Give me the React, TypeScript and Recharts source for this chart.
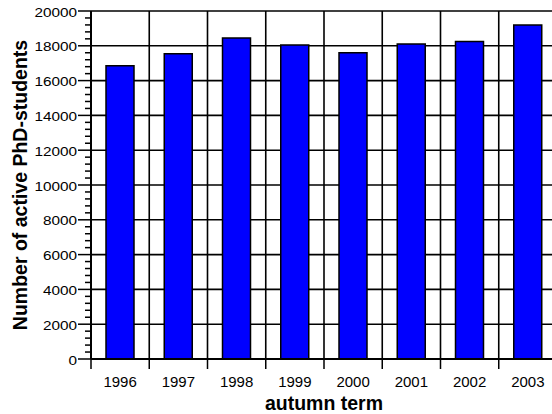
import React from 'react';
import { BarChart, Bar, XAxis, YAxis, CartesianGrid } from 'recharts';

const years = ['1996', '1997', '1998', '1999', '2000', '2001', '2002', '2003'];
const students = [16850, 17550, 18450, 18050, 17600, 18100, 18250, 19200];
const yMajorTicks = [0, 2000, 4000, 6000, 8000, 10000, 12000, 14000, 16000, 18000, 20000];
const yMinorStep = 400;
const yAllTicks = Array.from({ length: 20000 / yMinorStep + 1 }, (_, i) => i * yMinorStep);
const xBoundaryTicks = [0, 1, 2, 3, 4, 5, 6, 7, 8];
const xAllTicks = [0, 0.5, 1, 1.5, 2, 2.5, 3, 3.5, 4, 4.5, 5, 5.5, 6, 6.5, 7, 7.5, 8];

// each term sits in the middle of its category slot (index + 0.5)
const data = years.map((year, i) => ({ year, slot: i + 0.5, students: students[i] }));

const FONT = '"Liberation Sans", Arial, Helvetica, sans-serif';

const YTick = (props: any) => {
  const { x, y, payload } = props;
  const v = payload.value;
  const major = yMajorTicks.includes(v);
  return (
    <g>
      <line x1={major ? x + 1 : x + 8} x2={x + 14} y1={y} y2={y} stroke="#000" strokeWidth={1.5} />
      {major && (
        <text
          transform={`translate(${x},${y + 5.5}) scale(1.18,1)`}
          textAnchor="end"
          fontSize={13}
          fontFamily={FONT}
          fill="#000"
        >
          {v}
        </text>
      )}
    </g>
  );
};

const XTick = (props: any) => {
  const { x, y, payload } = props;
  const v = payload.value;
  if (Number.isInteger(v)) {
    return <line x1={x} x2={x} y1={y} y2={y + 10} stroke="#000" strokeWidth={1.5} />;
  }
  return (
    <text x={x} y={y + 28} textAnchor="middle" fontSize={15} fontFamily={FONT} fill="#000">
      {years[Math.floor(v)]}
    </text>
  );
};

export default function App() {
  return (
    <div
      style={{
        position: 'absolute',
        left: 0,
        top: 0,
        width: 552,
        height: 414,
        overflow: 'hidden',
        background: '#fff',
      }}
    >
      <BarChart
        width={571}
        height={414}
        data={data}
        margin={{ top: 11, right: 14, left: 0, bottom: 0 }}
      >
        <CartesianGrid
          stroke="#000"
          strokeWidth={1.6}
          horizontalValues={yMajorTicks}
          verticalValues={xBoundaryTicks}
        />
        <XAxis
          dataKey="slot"
          type="number"
          domain={[0, 8]}
          ticks={xAllTicks}
          interval={0}
          allowDataOverflow
          height={55}
          tickSize={0}
          tickMargin={0}
          tickLine={false}
          axisLine={{ stroke: '#000', strokeWidth: 2 }}
          tick={XTick}
          label={{
            value: 'autumn term',
            position: 'insideBottom',
            offset: 4,
            style: { fontSize: 19.5, fontWeight: 'bold', fontFamily: FONT, fill: '#000' },
          }}
        />
        <YAxis
          type="number"
          domain={[0, 20000]}
          ticks={yAllTicks}
          interval={0}
          allowDataOverflow
          width={91}
          tickSize={13}
          tickMargin={1}
          tickLine={false}
          axisLine={{ stroke: '#000', strokeWidth: 2 }}
          tick={YTick}
          label={{
            value: 'Number of active PhD-students',
            angle: -90,
            position: 'insideLeft',
            offset: 20,
            style: { textAnchor: 'middle', fontSize: 19.5, fontWeight: 'bold', fontFamily: FONT, fill: '#000' },
          }}
        />
        <Bar
          dataKey="students"
          fill="#0000FF"
          stroke="#000"
          strokeWidth={1.5}
          barSize={28}
          isAnimationActive={false}
        />
      </BarChart>
    </div>
  );
}
